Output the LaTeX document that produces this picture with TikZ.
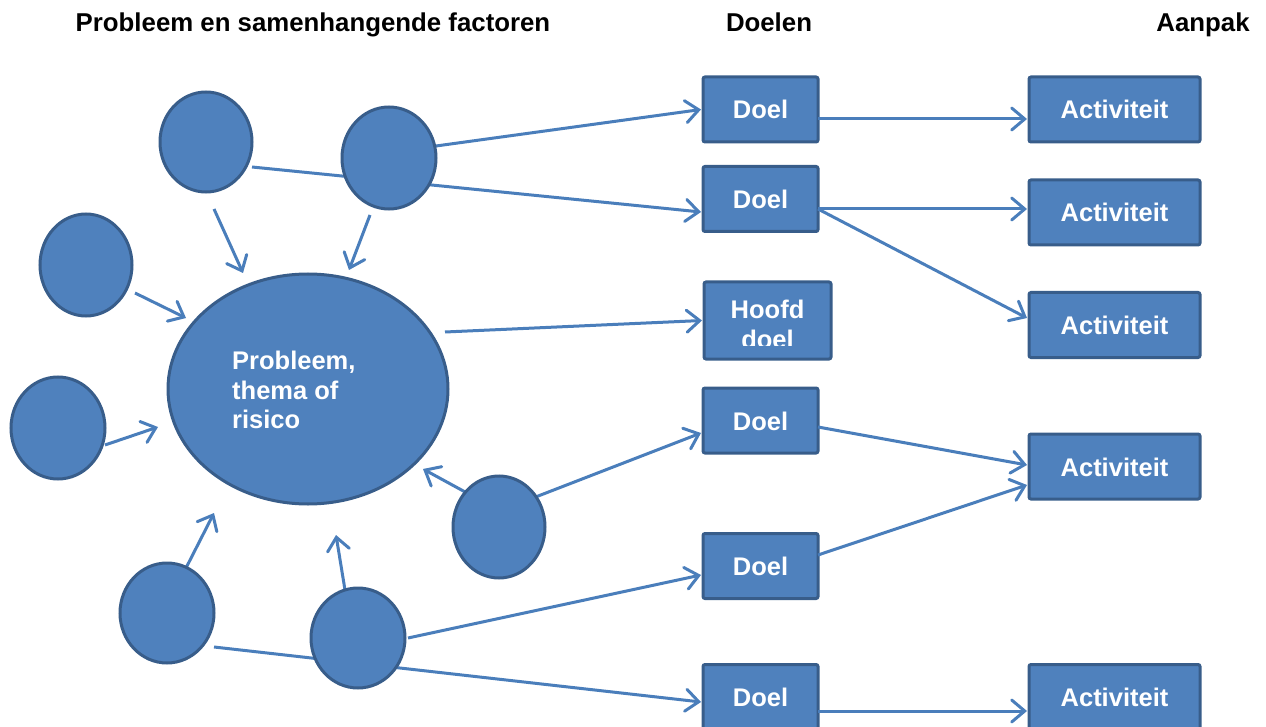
\documentclass[tikz,border=0pt]{standalone}
\usepackage{fontspec}
\setmainfont{Liberation Sans}
\usetikzlibrary{arrows.meta,calc,shapes.geometric}
\definecolor{fillblue}{HTML}{4F81BD}
\definecolor{edgeblue}{HTML}{385D8A}
\definecolor{lineblue}{HTML}{4A7EBB}
\tikzset{
  circ/.style={ellipse, draw=edgeblue, fill=fillblue, line width=3pt, inner sep=0pt, outer sep=0pt},
  bx/.style={rectangle, rounded corners=2pt, draw=edgeblue, fill=fillblue, line width=3pt, inner sep=0pt, outer sep=0pt},
  doelbox/.style={bx, minimum width=115pt, minimum height=65pt},
  actbox/.style={bx, minimum width=171pt, minimum height=65pt},
  lbl/.style={text=white, font=\bfseries\fontsize{25.5}{30}\selectfont, inner sep=0pt, anchor=base},
  ttl/.style={text=black, font=\bfseries\fontsize{25.8}{30}\selectfont, inner sep=0pt, anchor=base},
  conn/.style={draw=lineblue, line width=3pt},
  arr/.style={conn, -{Straight Barb[length=13pt,width=22pt,line cap=round]}},
}
\begin{document}
\begin{tikzpicture}[x=1pt,y=-1pt]
\useasboundingbox (0,0) rectangle (1266,727);
% titles
\node[ttl] (t1) at (313,32) {Probleem en samenhangende factoren};
\node[ttl] (t2) at (769,32) {Doelen};
\node[ttl] (t3) at (1203,32) {Aanpak};

% circle centres (lines are drawn before the circles so they lie behind)
\coordinate (c1) at (206,142);
\coordinate (c2) at (389,158);
\coordinate (c3) at (86,265);
\coordinate (c4) at (58,428);
\coordinate (big) at (308,389);
\coordinate (c5) at (499,527);
\coordinate (c6) at (167,613);
\coordinate (c7) at (358,638);

% boxes
\node[doelbox] (d1) at (760.5,109.5) {};
\node[doelbox] (d2) at (760.5,199) {};
\node[bx, minimum width=127pt, minimum height=77pt] (h) at (767.5,320.5) {};
\node[doelbox] (d3) at (760.5,420.5) {};
\node[doelbox] (d4) at (760.5,566) {};
\node[doelbox] (d5) at (760.5,697) {};
\node[actbox] (a1) at (1114.5,109.5) {};
\node[actbox] (a2) at (1114.5,212.5) {};
\node[actbox] (a3) at (1114.5,325) {};
\node[actbox] (a4) at (1114.5,466.5) {};
\node[actbox] (a5) at (1114.5,697) {};

% connectors
\draw[arr] ($(c2)+(47,-12)$) -- ($(d1.west)+(-2,0)$);
\draw[arr] ($(c1)+(46,25)$) -- ($(d2.west)+(-2,13)$);
\draw[arr] ($(c1)+(8,67)$) -- ($(big)+(-65,-116)$);
\draw[arr] ($(c2)+(-19,57)$) -- ($(big)+(41,-119)$);
\draw[arr] ($(c3)+(49,28)$) -- ($(big)+(-122,-71)$);
\draw[arr] ($(c4)+(47,17)$) -- ($(big)+(-150,38)$);
\draw[arr] ($(big)+(137,-57)$) -- ($(h.west)+(-2,0)$);
\draw[arr] ($(c5)+(-32,-34)$) -- ($(big)+(115,80)$);
\draw[arr] ($(c5)+(34,-29)$) -- ($(d3.west)+(-2,12.5)$);
\draw[arr] ($(c6)+(19,-45)$) -- ($(big)+(-94,124)$);
\draw[arr] ($(c7)+(-13,-48)$) -- ($(big)+(28,146)$);
\draw[arr] ($(c7)+(50,0)$) -- ($(d4.west)+(-2,9)$);
\draw[arr] ($(c6)+(47,34)$) -- ($(d5.west)+(-2,5)$);
\draw[arr] ($(d1.east)+(0,9.5)$) -- ($(a1.west)+(-2,9.5)$);
\draw[arr] ($(d2.east)+(0,10)$) -- ($(a2.west)+(-2,-3.5)$);
\draw[arr] ($(d2.east)+(0,10)$) -- ($(a3.west)+(-2,-7)$);
\draw[arr] ($(d3.east)+(0,6.5)$) -- ($(a4.west)+(-2,-1.5)$);
\draw[arr] ($(d4.east)+(0,-11)$) -- ($(a4.west)+(-2,18.5)$);
\draw[arr] ($(d5.east)+(0,14)$) -- ($(a5.west)+(-2,14)$);

% circles
\node[circ, minimum width=92pt, minimum height=100pt] (n1) at (c1) {};
\node[circ, minimum width=94pt, minimum height=102pt] (n2) at (c2) {};
\node[circ, minimum width=92pt, minimum height=102pt] (n3) at (c3) {};
\node[circ, minimum width=94pt, minimum height=102pt] (n4) at (c4) {};
\node[circ, minimum width=280pt, minimum height=230pt] (nbig) at (big) {};
\node[circ, minimum width=92pt, minimum height=102pt] (n5) at (c5) {};
\node[circ, minimum width=94pt, minimum height=100pt] (n6) at (c6) {};
\node[circ, minimum width=94pt, minimum height=100pt] (n7) at (c7) {};

% texts
\node[lbl, anchor=base west] (bt1) at (232,369) {Probleem,};
\node[lbl, anchor=base west] (bt2) at (232,399) {thema of};
\node[lbl, anchor=base west] (bt3) at (232,428) {risico};

\node[lbl] (l1) at ($(d1)+(0,9.5)$) {Doel};
\node[lbl] (l2) at ($(d2)+(0,9.5)$) {Doel};
\node[lbl] (l3) at ($(d3)+(0,9.5)$) {Doel};
\node[lbl] (l4) at ($(d4)+(0,9.5)$) {Doel};
\node[lbl] (l5) at ($(d5)+(0,9.5)$) {Doel};
\begin{scope}
\clip ($(h.north west)$) rectangle ($(h.south east)+(0,-14)$);
\node[lbl] (hl1) at (767.5,318) {Hoofd};
\node[lbl] (hl2) at (767.5,348) {doel};
\end{scope}
\node[lbl] (m1) at ($(a1)+(0,9.5)$) {Activiteit};
\node[lbl] (m2) at ($(a2)+(0,9.5)$) {Activiteit};
\node[lbl] (m3) at ($(a3)+(0,9.5)$) {Activiteit};
\node[lbl] (m4) at ($(a4)+(0,9.5)$) {Activiteit};
\node[lbl] (m5) at ($(a5)+(0,9.5)$) {Activiteit};
\end{tikzpicture}
\end{document}
